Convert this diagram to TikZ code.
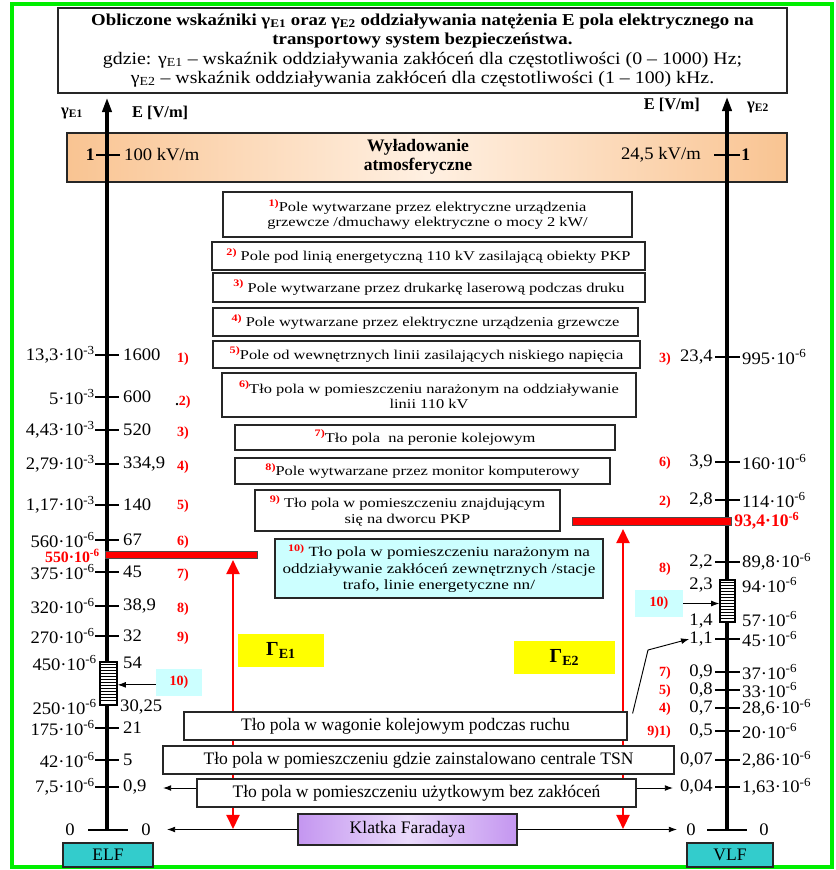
\documentclass[tikz,border=0pt]{standalone}
\usepackage{fontspec}
\setmainfont{Liberation Serif}
\newfontfamily\widefont[FakeStretch=1.22]{Liberation Serif}
\newfontfamily\titlefont[FakeStretch=1.13]{Liberation Serif}
\newfontfamily\scalefont[FakeStretch=1.06]{Liberation Serif}
\usetikzlibrary{arrows.meta,positioning}

\newcommand\pxu{0.03cm}
\newcommand\fsz[2]{\fontsize{#1}{#2}\selectfont}
\newcommand\boxref[1]{\raisebox{0.38em}{\textcolor{red}{\bfseries\fsz{8.5}{9}#1}}}
\definecolor{bandor}{RGB}{249,196,146}
\definecolor{bandlt}{RGB}{255,240,226}
\definecolor{lila}{RGB}{196,150,240}
\definecolor{lilalt}{RGB}{234,218,251}
\definecolor{tealbox}{RGB}{51,204,204}
\definecolor{cyanlt}{RGB}{204,255,255}
\definecolor{gelb}{RGB}{255,255,0}
\definecolor{greenframe}{RGB}{0,238,0}

\begin{document}
\begin{tikzpicture}[x=0.03cm,y=-0.03cm,
 sz/.style 2 args={minimum width=#1*\pxu,minimum height=#2*\pxu},
 box/.style={draw=black!85,line width=1pt,fill=white,inner sep=0pt,align=center,font=\widefont\fsz{11.5}{13.5}},
 lowbox/.style={box,font=\fsz{15}{17}},
 axlab/.style={font=\scalefont\fsz{15}{17},inner sep=0pt},
 nr/.style={text=red,font=\bfseries\fsz{12}{13},inner sep=0pt},
 tickln/.style={line width=1.6pt},
 axis/.style={line width=2.6pt,-{Triangle[length=12pt,width=8pt]}},
 redarr/.style={red,line width=2.4pt,{Triangle[length=12pt,width=11pt]}-{Triangle[length=12pt,width=11pt]}},
 arr/.style={line width=0.8pt,-{Latex[length=7pt,width=5pt]}},
 redbar/.style={draw=black!70,fill=red,line width=0.6pt,inner sep=0pt},
 hatch/.style={draw,fill=white,line width=1pt,inner sep=0pt},
 tag/.style={fill=cyanlt,text=red,font=\bfseries\fsz{12}{14},inner sep=0pt},
 gam/.style={fill=gelb,font=\bfseries\fsz{17}{19},inner sep=0pt}]

\useasboundingbox (0,0) rectangle (835,870);
\fill[white] (0,0) rectangle (835,870);
\draw[greenframe,line width=4pt] (12,4) rectangle (832,867);

% title
\node[draw=black!85,line width=1pt,fill=white,sz={729}{85},align=center,font=\titlefont\fsz{15}{16.5}] (title) at (422.5,50.5)
 {{\bfseries\fsz{14.2}{16.5}Obliczone wskaźniki γ\textsubscript{E1} oraz γ\textsubscript{E2} oddziaływania natężenia E pola elektrycznego na}\\
  {\bfseries\fsz{14.2}{16.5}transportowy system bezpieczeństwa.}\\
  gdzie: γ\textsubscript{E1} – wskaźnik oddziaływania zakłóceń dla częstotliwości (0 – 1000) Hz;\\
  γ\textsubscript{E2} – wskaźnik oddziaływania zakłóceń dla częstotliwości (1 – 100) kHz.};

% lightning band
\node[draw=black!85,line width=1pt,sz={720}{49},left color=bandor,right color=bandor,middle color=bandlt] (band) at (427,157.5) {};
\node[font=\bfseries\fsz{15}{16.5},align=center] (wyl) at (418,157) {Wyładowanie\\atmosferyczne};

% red range arrows
\coordinate (gL) at (233,829);
\coordinate (gR) at (623,829);
\draw[redarr] (233,560) -- (gL);
\draw[redarr] (623,529) -- (gR);

% axes
\coordinate (axL0) at (107,830);
\coordinate (axLtop) at (107,98);
\coordinate (axR0) at (727,830);
\coordinate (axRtop) at (727,97);
\draw[axis] (axL0) -- (axLtop);
\draw[axis] (axR0) -- (axRtop);
\node[font=\bfseries\fsz{14}{16}] (gE1) at (72,113) {γ\textsubscript{E1}};
\node[font=\bfseries\fsz{14}{16},anchor=west] (eL) at (128,113) {E [V/m]};
\node[font=\bfseries\fsz{14}{16},anchor=east] (eR) at (704,105) {E [V/m]};
\node[font=\bfseries\fsz{14}{16}] (gE2) at (758,107) {γ\textsubscript{E2}};

% band ticks
\node[font=\bfseries\fsz{15}{17},anchor=east,inner sep=1pt] (oneL) at (96,155) {1};
\draw[tickln] (96,155) -- (120,155);
\node[axlab,anchor=west] (kvL) at (124,155) {100 kV/m};
\node[axlab,anchor=east] (kvR) at (701,155) {24,5 kV/m};
\draw[tickln] (714,155) -- (740,155);
\node[font=\bfseries\fsz{15}{17},anchor=west,inner sep=1pt] (oneR) at (740,155) {1};

% left scale
\foreach \yy/\va/\vb/\rd/\yr [count=\i] in {
 355/{13,3·10\textsuperscript{-3}}/{1600}/{1)}/359,
 397/{5·10\textsuperscript{-3}}/{600}/{\textcolor{black}{.}2)}/402,
 430/{4,43·10\textsuperscript{-3}}/{520}/{3)}/433,
 464/{2,79·10\textsuperscript{-3}}/{334,9}/{4)}/467,
 505/{1,17·10\textsuperscript{-3}}/{140}/{5)}/506,
 540/{560·10\textsuperscript{-6}}/{67}/{6)}/542,
 572/{375·10\textsuperscript{-6}}/{45}/{7)}/575,
 606/{320·10\textsuperscript{-6}}/{38,9}/{8)}/609,
 636/{270·10\textsuperscript{-6}}/{32}/{9)}/638,
 728/{175·10\textsuperscript{-6}}/{21}/{}/728,
 760/{42·10\textsuperscript{-6}}/{5}/{}/760,
 787/{7,5·10\textsuperscript{-6}}/{0,9}/{}/787}{
 \draw[tickln] (95,\yy) -- (119,\yy);
 \node[axlab,anchor=east] (lg\i) at (95,\yy) {\va};
 \node[axlab,anchor=west] (le\i) at (123,\yy) {\vb};
 \node[nr] (lr\i) at (183,\yr) {\rd};
}
\node[axlab,anchor=east] (lg450) at (97,663) {450·10\textsuperscript{-6}};
\node[axlab,anchor=west] (le54) at (123,663) {54};
\node[axlab,anchor=east] (lg250) at (97,707) {250·10\textsuperscript{-6}};
\node[axlab,anchor=west] (le30) at (120,707) {30,25};
\draw[tickln] (88,830) -- (128,830);
\node[axlab] (lz1) at (70,830) {0};
\node[axlab] (lz2) at (146,830) {0};

% right scale
\foreach \yy/\va/\vb/\rd/\yr [count=\i] in {
 357/{23,4}/{995·10\textsuperscript{-6}}/{3)}/359,
 462/{3,9}/{160·10\textsuperscript{-6}}/{6)}/463,
 500/{2,8}/{114·10\textsuperscript{-6}}/{2)}/502,
 562/{2,2}/{89,8·10\textsuperscript{-6}}/{8)}/569,
 639/{1,1}/{45·10\textsuperscript{-6}}/{}/639,
 672/{0,9}/{37·10\textsuperscript{-6}}/{7)}/673,
 690/{0,8}/{33·10\textsuperscript{-6}}/{5)}/691,
 708/{0,7}/{28,6·10\textsuperscript{-6}}/{4)}/709,
 731/{0,5}/{20·10\textsuperscript{-6}}/{9)1)}/732,
 760/{0,07}/{2,86·10\textsuperscript{-6}}/{}/760,
 787/{0,04}/{1,63·10\textsuperscript{-6}}/{}/787}{
 \draw[tickln] (715,\yy) -- (740,\yy);
 \node[axlab,anchor=east] (rn\i) at (713,\yy) {\va};
 \node[axlab,anchor=west] (rg\i) at (742,\yy) {\vb};
 \node[nr,anchor=east] (rr\i) at (671,\yr) {\rd};
}
\node[axlab,anchor=east] (rn23) at (713,585) {2,3};
\node[axlab,anchor=west] (rg94) at (742,585) {94·10\textsuperscript{-6}};
\node[axlab,anchor=east] (rn14) at (713,621) {1,4};
\node[axlab,anchor=west] (rg57) at (742,619) {57·10\textsuperscript{-6}};
\draw[tickln] (707,830) -- (747,830);
\node[axlab] (rz1) at (691,830) {0};
\node[axlab] (rz2) at (764,830) {0};

% limit bars
\node[redbar,sz={152}{7}] (barL) at (181,554.5) {};
\node[font=\bfseries\fsz{13.5}{15},text=red,anchor=east,inner sep=0pt] (limL) at (100,556) {550·10\textsuperscript{-6}};
\node[redbar,sz={159}{8}] (barR) at (651.5,521) {};
\node[font=\bfseries\fsz{15}{17},text=red,anchor=west,inner sep=1pt] (limR) at (733,521) {93,4·10\textsuperscript{-6}};

% hatched ranges
\node[hatch,sz={17}{43}] (hatchL) at (108.5,683.5) {};
\node[hatch,sz={15}{42}] (hatchR) at (727.5,601) {};
\foreach \k in {1,...,13}{
 \draw[line width=0.6pt] ([yshift=-\k*3*\pxu]hatchL.north west) -- ([yshift=-\k*3*\pxu]hatchL.north east);
 \draw[line width=0.6pt] ([yshift=-\k*3*\pxu]hatchR.north west) -- ([yshift=-\k*3*\pxu]hatchR.north east);
}
\node[tag,sz={46}{27}] (tagL) at (179,682.5) {10)};
\node[tag,sz={48}{27}] (tagR) at (659,603.5) {10)};
\draw[arr] ([yshift=-0.07cm]tagL.west) -- ([yshift=-0.07cm]tagL.west -| hatchL.east);
\draw[arr] (tagR.east) -- (tagR.east -| hatchR.west);

% sources
\node[box,sz={409}{45}] (src1) at (427.5,214.5) {\boxref{1)}Pole wytwarzane przez elektryczne urządzenia\\grzewcze /dmuchawy elektryczne o mocy 2 kW/};
\node[box,sz={433}{28}] (src2) at (428.5,256) {\boxref{2)} Pole pod linią energetyczną 110 kV zasilającą obiekty PKP};
\node[box,sz={432}{29}] (src3) at (429,287.5) {\boxref{3)} Pole wytwarzane przez drukarkę laserową podczas druku};
\node[box,sz={425}{28}] (src4) at (425.5,322) {\boxref{4)} Pole wytwarzane przez elektryczne urządzenia grzewcze};
\node[box,sz={427}{27}] (src5) at (426.5,354.5) {\boxref{5)}Pole od wewnętrznych linii zasilających niskiego napięcia};
\node[box,sz={414}{44}] (src6) at (429,395) {\boxref{6)}Tło pola w pomieszczeniu narażonym na oddziaływanie\\linii 110 kV};
\node[box,sz={380}{25}] (src7) at (425,437.5) {\boxref{7)}Tło pola\ \ na peronie kolejowym};
\node[box,sz={375}{26}] (src8) at (422.5,471) {\boxref{8)}Pole wytwarzane przez monitor komputerowy};
\node[box,sz={305}{41}] (src9) at (407.5,510.5) {\boxref{9)} Tło pola w pomieszczeniu znajdującym\\się na dworcu PKP};
\node[box,fill=cyanlt,sz={328}{59},font=\widefont\fsz{12}{14}] (src10) at (439,568.5) {\boxref{10)} Tło pola w pomieszczeniu narażonym na\\oddziaływanie zakłóceń zewnętrznych /stacje\\trafo, linie energetyczne nn/};

% gamma labels
\node[gam,sz={86}{33}] (GE1) at (281,650.5) {Γ\textsubscript{E1}};
\node[gam,sz={101}{33}] (GE2) at (564.5,657.5) {Γ\textsubscript{E2}};

% background fields
\node[lowbox,sz={443}{28}] (wagon) at (405.5,726) {Tło pola w wagonie kolejowym podczas ruchu};
\node[lowbox,sz={511}{28}] (tsn) at (418.5,760) {Tło pola w pomieszczeniu gdzie zainstalowano centrale TSN};
\node[lowbox,sz={439}{28}] (uzyt) at (416.5,793) {Tło pola w pomieszczeniu użytkowym bez zakłóceń};
\node[lowbox,sz={219}{31},left color=lila,right color=lila,middle color=lilalt] (klatka) at (407.5,829.5) {Klatka Faradaya};
\coordinate (uL) at (163,788);
\coordinate (uR) at (673,788);
\coordinate (kL) at (167,829.5);
\coordinate (kR) at (677,829.5);
\draw[arr] ([yshift=0.15cm]uzyt.west) -- (uL);
\draw[arr] ([yshift=0.15cm]uzyt.east) -- (uR);
\draw[arr] (klatka.west) -- (kL);
\draw[arr] (klatka.east) -- (kR);
\draw[arr] ([xshift=0.15cm,yshift=-0.06cm]wagon.north east) -- (648,650) -- (rn5.west);

% frequency bands
\node[draw=black!85,line width=1pt,fill=tealbox,sz={90}{24},font=\fsz{15}{17}] (elf) at (108,855) {ELF};
\node[draw=black!85,line width=1pt,fill=tealbox,sz={86}{24},font=\fsz{15}{17}] (vlf) at (730,855) {VLF};
\end{tikzpicture}
\end{document}
